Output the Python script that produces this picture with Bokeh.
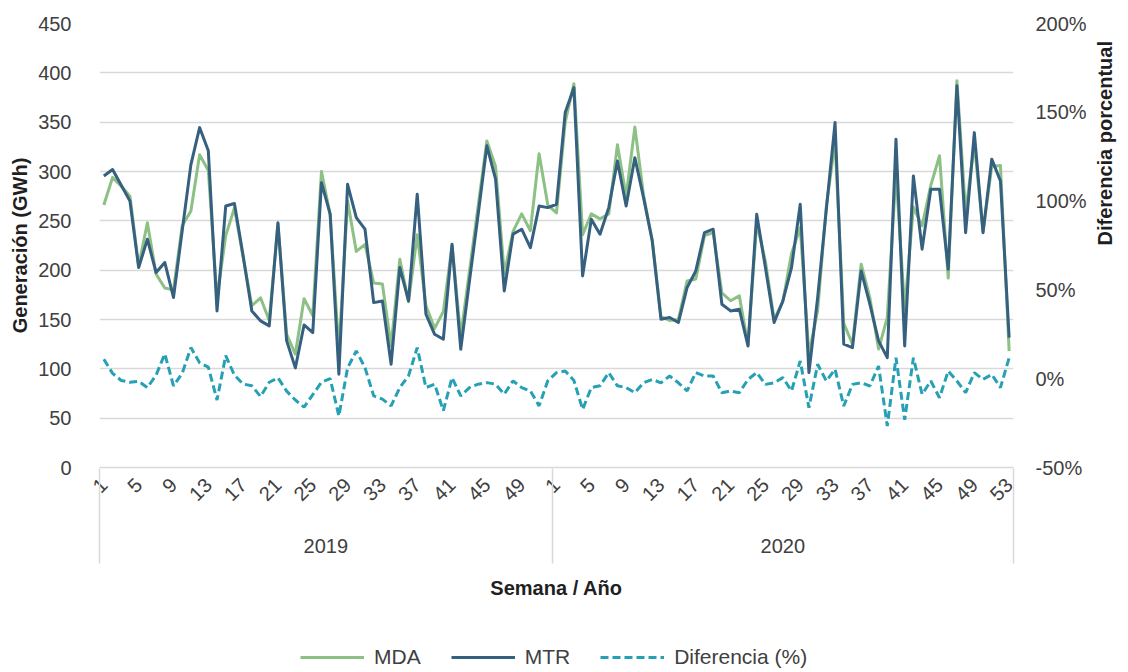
import math
from bokeh.plotting import figure
from bokeh.layouts import column
from bokeh.models import (Range1d, LinearAxis, FixedTicker, Legend, LegendItem,
                          ColumnDataSource, PrintfTickFormatter)
from bokeh.embed import file_html
from bokeh.resources import INLINE

# ---------------- data ----------------
years = ["2019", "2020"]
weeks_2019 = list(range(1, 53))
weeks_2020 = list(range(1, 54))

mda_2019 = [266, 294, 285, 275, 204, 248, 196, 182, 180, 245, 260, 317, 301, 172,
            235, 263, 213, 164, 172, 149, 247, 135, 115, 171, 154, 300, 256, 118,
            270, 219, 226, 187, 186, 123, 211, 168, 236, 164, 141, 158, 225, 133,
            199, 265, 331, 305, 196, 239, 257, 240, 318, 266]
mda_2020 = [258, 350, 389, 236, 257, 252, 257, 327, 275, 345, 276, 230, 153, 149,
            150, 189, 191, 235, 238, 177, 169, 174, 124, 248, 209, 150, 168, 217,
            243, 115, 159, 265, 330, 146, 125, 206, 172, 120, 152, 298, 160, 264,
            245, 286, 316, 192, 392, 258, 328, 239, 305, 306, 118]

mtr_2019 = [295.5, 302, 286, 270, 202.6, 231.4, 197.6, 207.8, 172.3, 240, 307, 344.5,
            321, 158.7, 265, 267.5, 214.5, 158.7, 148.6, 143.5, 248, 128.3, 101, 144.5,
            136.7, 288.7, 256.7, 94.6, 287, 253.3, 241.5, 167.1, 168.8, 104.7, 202.6,
            168.8, 277, 155.4, 135, 130, 226.3, 119.9, 189, 256.7, 326, 292.2, 179,
            236.5, 241.5, 222.9, 265, 263.4]
mtr_2020 = [266.8, 359.7, 385, 194.2, 251.6, 236.4, 263.4, 310.7, 265.1, 314, 273.5,
            229.7, 150.3, 152, 146.9, 182.3, 199.2, 238, 241.5, 165.5, 158.7, 160.4,
            123.2, 256.7, 202.6, 146.9, 168.8, 202.6, 266.8, 96.2, 172, 261.8, 349.6,
            125, 121.5, 199.2, 165.5, 128.3, 111.4, 332.7, 123.2, 295.5, 221.3, 282,
            282, 201, 386.8, 238, 339.4, 238, 312.5, 290.5, 131.7]

diff_2019 = [11, 3, -1, -2, -1.5, -5, 2, 14, -4, 3, 17.5, 9, 6.5, -12, 13, 2, -3, -4,
             -10, -2, 0.5, -7, -12, -16, -9, -2, 0, -21, 6, 15.7, 6.2, -9.7, -11.5,
             -15.3, -5, 1.6, 17.5, -5, -3.1, -18, 0.6, -9.7, -5, -3.1, -2.2, -3.1,
             -8.7, -1.2, -5, -6.9, -15.3, -1.2]
diff_2020 = [3.4, 4.3, -1, -17.3, -5, -4, 3.4, -4, -5, -7.9, -2.3, -0.4, -2.3, 1.5,
             -2.3, -6.9, 3.4, 1.5, 1.5, -7.9, -6.9, -7.9, -0.4, 3.4, -3.2, -2.3, 0.6,
             -6.9, 10, -16.3, 8.1, -1.3, 5.3, -15.4, -3.2, -2.3, -4.1, 7.1, -26.6,
             11.8, -23.1, 11.8, -8.8, -1.3, -10.7, 4.3, -1.3, -7.9, 3.4, -0.4, 2.4,
             -5, 11.8]

left_ticks = [0, 50, 100, 150, 200, 250, 300, 350, 400, 450]
right_ticks = [-50, 0, 50, 100, 150, 200]
week_tick_step = 4

# ---------------- build ----------------
weeks = weeks_2019 + weeks_2020
n = len(weeks)
idx = list(range(n))
src = ColumnDataSource(dict(x=idx, mda=mda_2019 + mda_2020, mtr=mtr_2019 + mtr_2020,
                            diff=diff_2019 + diff_2020))

FONT = "Liberation Sans"
FS = "20px"
TXT = "#404040"
TITLE = "#1f1f1f"
GRID = "#d9d9d9"
C_MDA = "#8cc084"
C_MTR = "#36607f"
C_DIF = "#25a0b4"
DASH = "8 4"

p = figure(frame_width=914, frame_height=444, x_range=Range1d(-0.5, n - 0.5),
           y_range=Range1d(left_ticks[0], left_ticks[-1]),
           output_backend="svg", toolbar_location=None,
           min_border_left=99, min_border_right=107, min_border_top=23,
           min_border_bottom=140)
p.extra_y_ranges = {"pct": Range1d(right_ticks[0], right_ticks[-1])}
p.outline_line_color = None
p.background_fill_color = "white"
p.border_fill_color = "white"

# grid
p.xgrid.visible = False
p.ygrid.ticker = FixedTicker(ticks=left_ticks)
p.ygrid.grid_line_color = GRID
p.ygrid.grid_line_width = 1.5

# left axis
ya = p.yaxis[0]
ya.ticker = FixedTicker(ticks=left_ticks)
ya.axis_line_color = None
ya.major_tick_line_color = None
ya.minor_tick_line_color = None
ya.major_label_text_font = FONT
ya.major_label_text_font_size = FS
ya.major_label_text_color = TXT
ya.major_label_standoff = 22
ya.axis_label = "Generación (GWh)"
ya.axis_label_text_font = FONT
ya.axis_label_text_font_style = "bold"
ya.axis_label_text_font_size = FS
ya.axis_label_text_color = TITLE
ya.axis_label_standoff = 4

# right axis
ra = LinearAxis(y_range_name="pct", ticker=FixedTicker(ticks=right_ticks),
                formatter=PrintfTickFormatter(format="%d%%"))
ra.axis_line_color = None
ra.major_tick_line_color = None
ra.minor_tick_line_color = None
ra.major_label_text_font = FONT
ra.major_label_text_font_size = FS
ra.major_label_text_color = TXT
ra.major_label_standoff = 16
ra.axis_label = "Diferencia porcentual"
ra.axis_label_text_font = FONT
ra.axis_label_text_font_style = "bold"
ra.axis_label_text_font_size = FS
ra.axis_label_text_color = TITLE
ra.axis_label_standoff = 15
try:
    ra.axis_label_orientation = math.pi / 2
except Exception:
    pass
p.add_layout(ra, "right")

# week axis (bottom)
week_ticks = [i for i, w in enumerate(weeks) if (w - 1) % week_tick_step == 0]
xa = p.xaxis[0]
xa.ticker = FixedTicker(ticks=week_ticks)
xa.major_label_overrides = {i: str(weeks[i]) for i in week_ticks}
xa.major_label_orientation = math.pi / 4
xa.major_tick_line_color = None
xa.minor_tick_line_color = None
xa.axis_line_color = GRID
xa.axis_line_width = 1.5
xa.major_label_text_font = FONT
xa.major_label_text_font_size = FS
xa.major_label_text_color = TXT
xa.major_label_standoff = 8

# year axis (group labels)
n19 = len(weeks_2019)
centers = [(n19 - 1) / 2, n19 + (len(weeks_2020) - 1) / 2]
ga = LinearAxis(ticker=FixedTicker(ticks=centers))
ga.major_label_overrides = {centers[0]: years[0], centers[1]: years[1]}
ga.axis_line_color = None
ga.major_tick_line_color = None
ga.minor_tick_line_color = None
ga.major_tick_in = 0
ga.major_tick_out = 0
ga.minor_tick_in = 0
ga.minor_tick_out = 0
ga.major_label_text_font = FONT
ga.major_label_text_font_size = FS
ga.major_label_text_color = TXT
ga.major_label_standoff = 28
p.add_layout(ga, "below")

# separator axis (group brackets) + axis title
seps = [-0.5, n19 - 0.5, n - 0.5]
sa = LinearAxis(ticker=FixedTicker(ticks=seps))
sa.major_label_overrides = {s: "" for s in seps}
sa.major_label_text_font_size = "1px"
sa.axis_line_color = None
sa.minor_tick_line_color = None
sa.minor_tick_in = 0
sa.minor_tick_out = 0
sa.major_tick_line_color = GRID
sa.major_tick_line_width = 1.5
sa.major_tick_in = 87
sa.major_tick_out = 8
sa.major_label_standoff = 0
sa.axis_label = "Semana / Año"
sa.axis_label_text_font = FONT
sa.axis_label_text_font_style = "bold"
sa.axis_label_text_font_size = FS
sa.axis_label_text_color = TITLE
sa.axis_label_standoff = 13
p.add_layout(sa, "below")

# lines
p.line("x", "mda", source=src, line_color=C_MDA, line_width=3, line_join="round")
p.line("x", "mtr", source=src, line_color=C_MTR, line_width=3, line_join="round")
p.line("x", "diff", source=src, y_range_name="pct", line_color=C_DIF,
       line_width=3, line_dash=DASH)

# ---------------- legend strip below the chart ----------------
lg = figure(frame_width=1120, frame_height=64, x_range=Range1d(0, 1),
            y_range=Range1d(0, 1), output_backend="svg", toolbar_location=None,
            x_axis_location=None, y_axis_location=None,
            min_border_left=0, min_border_right=0, min_border_top=0,
            min_border_bottom=0)
lg.outline_line_color = None
lg.grid.visible = False
lg.background_fill_color = "white"
lg.border_fill_color = "white"
# same series, drawn outside this strip's view: only their legend keys show
l_mda = lg.line("x", "mda", source=src, line_color=C_MDA, line_width=3)
l_mtr = lg.line("x", "mtr", source=src, line_color=C_MTR, line_width=3)
l_dif = lg.line("x", "diff", source=src, line_color=C_DIF, line_width=3,
                line_dash=DASH)

legend = Legend(items=[LegendItem(label="MDA", renderers=[l_mda]),
                       LegendItem(label="MTR", renderers=[l_mtr]),
                       LegendItem(label="Diferencia (%)", renderers=[l_dif])],
                orientation="horizontal", location=(300, 2))
legend.label_text_font = FONT
legend.label_text_font_size = "21px"
legend.label_text_color = TXT
legend.glyph_width = 64
legend.label_standoff = 10
legend.spacing = 30
legend.padding = 0
legend.margin = 0
legend.border_line_color = None
legend.background_fill_alpha = 0
lg.add_layout(legend, "center")

layout = column(p, lg, spacing=0)
open("out.html", "w").write(file_html(layout, INLINE))
